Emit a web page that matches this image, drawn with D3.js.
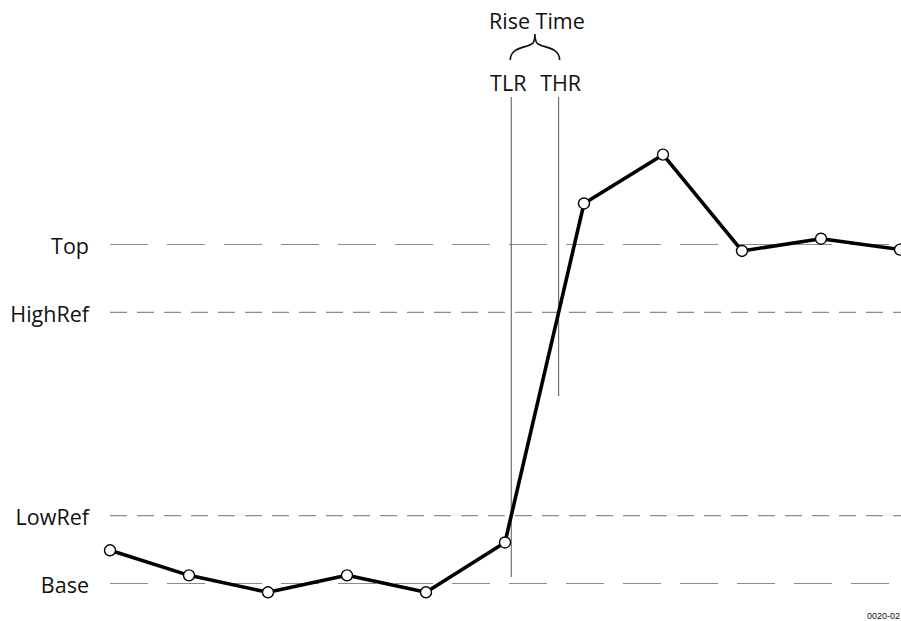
<!DOCTYPE html>
<html>
<head>
<meta charset="utf-8">
<script src="https://cdn.jsdelivr.net/npm/d3@7"></script>
<style>
    body { margin: 0; background: #fff; }
    svg text { font-family: "Open Sans", sans-serif; fill: #111; }
</style>
</head>
<body>
<div id="chart"></div>
<script>
    // sample index and level (percent of Top-Base amplitude)
const samples = [0, 1, 2, 3, 4, 5, 6, 7, 8, 9, 10];
const levels = [9.8, 2.4, -2.6, 2.4, -2.6, 12.1, 112.1, 126.5, 98.1, 101.7, 98.5];

    // reference levels
const refNames = ["Top", "HighRef", "LowRef", "Base"];
const refValues = [100, 80, 20, 0];
const refDash = ["38,19", "17,10", "17,10", "38,19"];

const topLabels = ["TLR", "THR"];
const braceLabel = "Rise Time";
const figNumber = "0020-02";

function draw() {
    const width = 901;
    const height = 621;

    const svg = d3.select("#chart")
        .append("svg")
        .attr("width", width)
        .attr("height", height);

    const x = d3.scaleLinear()
        .domain([0, 10])
        .range([110, 900]);

    const y = d3.scaleLinear()
        .domain([0, 100])
        .range([583.5, 244.5]);

        // dashed reference lines + labels
    refValues.forEach(function (v, i) {
        svg.append("line")
            .attr("x1", 110)
            .attr("x2", width)
            .attr("y1", y(v))
            .attr("y2", y(v))
            .attr("stroke", "#8c8c8c")
            .attr("stroke-width", 1.2)
            .attr("stroke-dasharray", refDash[i]);

        svg.append("text")
            .attr("x", 89)
            .attr("y", y(v))
            .attr("dy", "0.45em")
            .attr("text-anchor", "end")
            .style("font-size", "21.5px")
            .text(refNames[i]);
    });

        // crossing points of LowRef and HighRef on the rising edge
    function crossing(level) {
        for (let i = 1; i < levels.length; i++) {
            if (levels[i - 1] < level && levels[i] >= level) {
                const t = (level - levels[i - 1]) / (levels[i] - levels[i - 1]);
                return x(samples[i - 1] + t * (samples[i] - samples[i - 1]));
            }
        }
    }
    const xLow = crossing(refValues[2]);
    const xHigh = crossing(refValues[1]);

        // vertical markers
    svg.append("line")
        .attr("x1", xLow).attr("x2", xLow)
        .attr("y1", 97).attr("y2", 577)
        .attr("stroke", "#555").attr("stroke-width", 1);

    svg.append("line")
        .attr("x1", xHigh).attr("x2", xHigh)
        .attr("y1", 97).attr("y2", 396)
        .attr("stroke", "#555").attr("stroke-width", 1);

        // labels sit a bit outside their lines
    svg.selectAll(".top-label")
        .data([xLow - 3, xHigh + 2])
        .enter()
        .append("text")
        .attr("class", "top-label")
        .attr("x", d => d)
        .attr("y", 91)
        .attr("text-anchor", "middle")
        .style("font-size", "21.5px")
        .text((d, i) => topLabels[i]);

        // curly brace
    const mid = (xLow + xHigh) / 2;
    const bTop = 34, bMid = 46, bBot = 60;
    const bracePath = d3.path();
    bracePath.moveTo(xLow - 1, bBot);
    bracePath.bezierCurveTo(xLow - 1, bMid, mid - 6, bMid + 2, mid - 2, bMid - 3);
    bracePath.quadraticCurveTo(mid, bMid - 6, mid, bTop);
    bracePath.quadraticCurveTo(mid, bMid - 6, mid + 2, bMid - 3);
    bracePath.bezierCurveTo(mid + 6, bMid + 2, xHigh + 1, bMid, xHigh + 1, bBot);
    svg.append("path")
        .attr("d", bracePath.toString())
        .attr("fill", "none")
        .attr("stroke", "#111")
        .attr("stroke-width", 1.6);

    svg.append("text")
        .attr("x", mid + 2)
        .attr("y", 29)
        .attr("text-anchor", "middle")
        .style("font-size", "21.5px")
        .text(braceLabel);

        // waveform
    const line = d3.line()
        .x((d, i) => x(samples[i]))
        .y(d => y(d));

    svg.append("path")
        .datum(levels)
        .attr("d", line)
        .attr("fill", "none")
        .attr("stroke", "#000")
        .attr("stroke-width", 3.6)
        .attr("stroke-linejoin", "round");

    svg.selectAll(".pt")
        .data(levels)
        .enter()
        .append("circle")
        .attr("class", "pt")
        .attr("cx", (d, i) => x(samples[i]))
        .attr("cy", d => y(d))
        .attr("r", 5.5)
        .attr("fill", "#fff")
        .attr("stroke", "#000")
        .attr("stroke-width", 1.4);

    svg.append("text")
        .attr("x", 900)
        .attr("y", 619)
        .attr("text-anchor", "end")
        .style("font-family", "Liberation Sans Narrow, Arial, sans-serif")
        .style("font-size", "9px")
        .text(figNumber);
}

window.onload = draw;
</script>
</body>
</html>
